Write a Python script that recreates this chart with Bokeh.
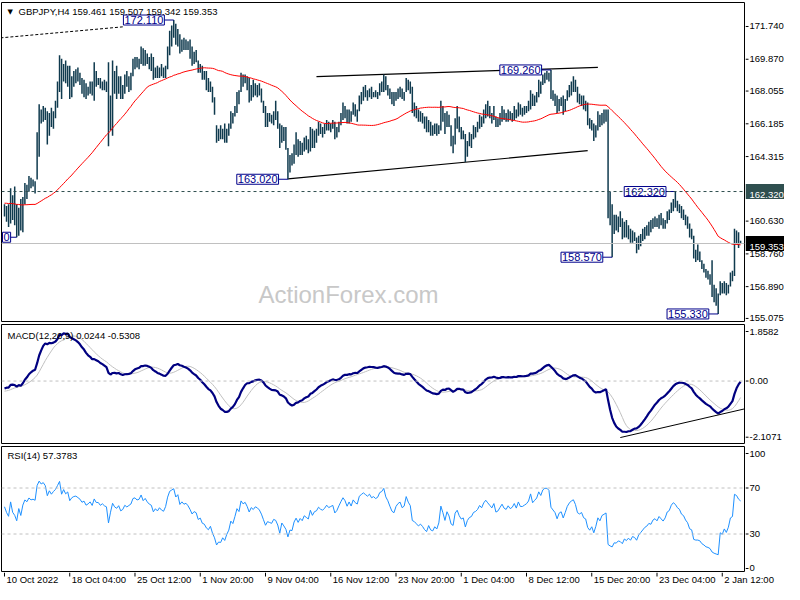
import numpy as np
import pandas as pd
from bokeh.plotting import figure
from bokeh.layouts import column, row
from bokeh.models import Range1d, Span
from bokeh.embed import file_html
from bokeh.resources import INLINE
from bokeh.core.properties import value

FONT = "Liberation Sans"
BAR_COLOR = "#0f3a4e"
NAVY = "#00008b"

# ---------------- data (GBPJPY H4) ----------------
# closes before the first visible bar (only used to warm up the indicators)
pre_close = [
    160.6, 160.9, 161.2, 160.8, 161.0, 161.4, 161.1, 161.5, 161.3, 161.7, 161.4, 161.6,
    161.3, 161.7, 162.0, 161.8, 162.2, 162.5, 162.3, 162.6, 162.9, 162.5, 162.7, 162.6,
    162.8, 162.4, 162.6, 162.3, 162.5, 162.1, 162.4, 162.2, 162.5, 162.0, 162.3, 162.1,
    161.9, 162.2, 161.8, 161.6, 161.9, 161.5, 161.7, 161.3, 161.6, 161.2, 161.4, 161.1,
    160.9, 160.6, 160.8, 160.4, 160.6, 160.3, 160.5, 160.2, 160.5, 160.7, 160.4, 160.6,
]

high = [
    161.6, 161.5, 161.6, 162.5, 162.1, 162.6, 161.6, 161.4, 161.9, 162.0,
    162.8, 162.7, 163.2, 163.1, 163.0, 162.9, 165.7, 167.3, 167.0, 167.2,
    167.1, 166.9, 166.8, 167.1, 166.9, 167.5, 168.6, 170.1, 169.9, 169.6,
    169.8, 169.5, 169.5, 168.9, 169.2, 169.3, 169.4, 169.1, 168.8, 168.7,
    168.5, 168.3, 168.6, 168.6, 169.7, 169.2, 168.8, 168.8, 168.6, 168.7,
    168.6, 169.7, 167.8, 169.8, 169.2, 169.5, 168.9, 168.9, 168.4, 169.0,
    169.2, 168.9, 169.1, 169.9, 170.0, 170.0, 169.9, 170.6, 170.5, 170.4,
    170.2, 170.0, 170.2, 170.0, 169.4, 169.5, 169.4, 169.6, 169.4, 169.5,
    170.6, 171.5, 171.8, 172.11, 171.9, 171.6, 171.3, 171.0, 171.1, 171.0,
    170.9, 171.0, 170.6, 170.3, 170.4, 169.8, 169.6, 169.5, 169.2, 169.2,
    168.8, 168.6, 168.3, 167.7, 166.1, 165.9, 166.1, 165.9, 166.2, 165.9,
    166.2, 166.9, 166.8, 167.2, 168.0, 168.1, 169.1, 169.0, 169.0, 168.9,
    168.8, 168.4, 168.7, 168.5, 168.4, 168.5, 168.2, 167.5, 167.2, 166.8,
    166.8, 166.7, 166.9, 167.5, 166.9, 166.2, 166.1, 166.0, 166.0, 164.8,
    164.4, 164.5, 165.0, 165.7, 165.3, 165.2, 165.1, 165.4, 165.5, 165.3,
    166.0, 165.9, 165.8, 165.9, 166.3, 166.2, 166.0, 166.2, 166.4, 166.3,
    166.2, 166.4, 166.3, 166.0, 166.3, 166.8, 167.4, 167.2, 167.0, 167.0,
    166.9, 167.4, 167.3, 167.0, 167.8, 168.0, 168.3, 168.4, 168.1, 168.2,
    168.3, 168.0, 168.1, 168.0, 168.5, 168.6, 169.0, 168.9, 168.4, 168.2,
    168.0, 168.0, 168.0, 168.2, 168.3, 168.2, 168.0, 168.8, 168.7, 168.6,
    168.3, 167.4, 167.2, 167.0, 166.9, 166.8, 166.6, 166.6, 166.4, 166.3,
    166.1, 166.2, 166.2, 166.1, 167.5, 167.2, 166.8, 166.9, 166.7, 166.1,
    165.5, 166.5, 167.2, 166.6, 166.0, 165.8, 165.6, 165.2, 165.7, 165.6,
    166.1, 166.0, 166.3, 166.7, 166.6, 167.0, 167.3, 167.5, 167.2, 166.8,
    167.2, 166.6, 166.5, 166.8, 167.2, 167.0, 166.8, 167.0, 166.9, 166.8,
    167.2, 167.0, 167.4, 167.3, 167.1, 167.2, 167.2, 167.5, 168.1, 167.9,
    167.8, 168.0, 168.7, 168.6, 169.0, 169.1, 169.2, 169.1, 169.26, 168.1,
    167.9, 167.8, 167.6, 167.7, 167.8, 167.6, 168.1, 168.4, 168.6, 168.9,
    168.7, 168.3, 167.9, 167.8, 167.8, 167.5, 167.4, 166.5, 166.4, 166.2,
    166.1, 166.9, 166.7, 166.8, 167.0, 167.0, 167.0, 162.3, 161.6, 161.0,
    161.0, 160.9, 161.2, 160.8, 160.6, 160.7, 160.4, 160.2, 160.1, 160.0,
    159.7, 159.8, 159.9, 160.2, 160.3, 160.4, 160.6, 160.7, 160.8, 160.9,
    160.8, 161.0, 161.1, 160.8, 160.7, 161.2, 161.3, 161.7, 161.9, 162.32,
    161.8, 161.6, 161.5, 161.3, 161.0, 160.9, 160.5, 160.2, 159.8, 159.0,
    159.3, 158.9, 158.4, 158.2, 157.9, 157.8, 157.6, 158.4, 157.0, 156.8,
    156.5, 157.2, 157.1, 157.2, 157.1, 157.0, 157.7, 157.8, 160.2, 160.1,
    160.0, 159.507,
]

low = [
    160.9, 160.6, 160.3, 160.5, 160.7, 160.4, 159.71, 159.8, 160.1, 160.0,
    161.6, 161.9, 162.3, 162.5, 162.6, 162.2, 163.0, 164.3, 166.2, 166.3,
    166.4, 165.0, 165.5, 166.0, 165.9, 166.5, 167.1, 168.0, 167.6, 168.6,
    168.5, 168.3, 167.6, 167.7, 168.3, 168.5, 168.6, 168.4, 167.9, 167.7,
    167.6, 167.8, 167.9, 167.8, 167.5, 168.3, 168.4, 168.2, 168.1, 168.1,
    168.0, 164.9, 165.8, 165.5, 167.9, 167.6, 167.9, 167.6, 167.6, 167.9,
    168.3, 168.0, 168.1, 168.9, 169.3, 169.4, 169.3, 169.6, 169.5, 169.5,
    169.6, 169.3, 169.2, 168.7, 168.8, 168.8, 168.8, 168.9, 168.8, 168.8,
    169.3, 170.1, 170.6, 171.1, 170.7, 170.6, 170.2, 170.3, 170.4, 170.4,
    170.4, 169.9, 169.5, 169.6, 169.7, 169.1, 169.1, 168.7, 168.7, 168.1,
    168.0, 168.0, 167.4, 166.7, 165.1, 165.2, 165.3, 165.3, 165.1, 165.1,
    165.5, 165.9, 166.2, 166.6, 166.8, 167.3, 168.0, 168.3, 168.5, 168.1,
    167.4, 167.5, 167.7, 167.8, 167.7, 167.8, 167.4, 166.8, 166.0, 166.0,
    166.3, 166.2, 166.1, 166.4, 165.9, 164.8, 165.1, 165.2, 164.7, 163.02,
    163.4, 163.8, 163.9, 164.4, 164.3, 164.4, 164.4, 164.6, 164.7, 164.5,
    164.6, 164.8, 164.8, 165.1, 165.5, 165.6, 165.4, 165.6, 165.8, 165.8,
    165.7, 165.9, 165.3, 165.4, 165.7, 166.1, 166.4, 166.5, 166.2, 166.2,
    166.3, 166.7, 166.6, 166.3, 166.9, 167.3, 167.5, 167.7, 167.5, 167.7,
    167.6, 167.7, 167.7, 167.6, 167.8, 168.0, 168.0, 168.1, 167.8, 167.6,
    167.3, 167.2, 167.5, 167.6, 167.7, 167.6, 167.5, 168.0, 168.1, 167.9,
    166.8, 166.6, 166.5, 166.3, 166.3, 166.2, 165.9, 165.7, 165.7, 165.5,
    165.5, 165.6, 165.5, 165.6, 165.8, 166.3, 165.6, 166.0, 166.0, 164.9,
    164.5, 165.0, 165.9, 165.7, 165.3, 165.3, 164.0, 164.3, 164.9, 164.8,
    165.3, 165.4, 165.7, 165.9, 166.0, 166.2, 166.5, 166.6, 166.5, 166.2,
    166.4, 166.0, 166.0, 166.1, 166.3, 166.4, 166.3, 166.3, 166.4, 166.3,
    166.4, 166.5, 166.6, 166.7, 166.6, 166.7, 166.8, 166.9, 167.0, 167.2,
    167.2, 167.4, 167.7, 167.9, 168.4, 168.5, 168.7, 168.6, 167.6, 167.5,
    167.2, 166.8, 166.9, 167.2, 166.7, 166.9, 167.5, 167.7, 167.8, 168.0,
    168.0, 167.4, 167.3, 167.2, 167.0, 166.9, 166.1, 165.9, 165.8, 165.2,
    165.4, 165.8, 166.0, 166.1, 166.2, 166.3, 160.8, 160.4, 158.57, 159.9,
    160.1, 160.0, 160.3, 159.6, 159.7, 159.7, 159.6, 159.4, 159.4, 159.5,
    158.8, 159.0, 159.2, 159.5, 159.6, 159.8, 159.8, 160.0, 160.2, 160.3,
    160.3, 160.2, 160.4, 160.2, 160.2, 160.5, 160.7, 161.1, 161.2, 161.4,
    161.2, 161.1, 160.8, 160.7, 160.4, 160.2, 159.7, 159.6, 158.5, 158.3,
    158.4, 158.3, 157.9, 157.7, 157.4, 157.3, 157.0, 156.3, 156.0, 155.8,
    155.33, 156.4, 156.5, 156.5, 156.4, 156.5, 156.9, 157.2, 157.5, 159.3,
    159.1, 159.342,
]

close = [
    161.3, 160.9, 160.6, 161.8, 160.9, 160.6, 160.0, 161.2, 160.4, 161.7,
    162.5, 162.3, 162.9, 162.7, 162.8, 162.7, 165.5, 166.8, 166.5, 166.9,
    166.6, 165.5, 166.6, 166.2, 166.8, 167.3, 168.3, 169.6, 168.0, 169.3,
    168.7, 169.2, 167.9, 168.6, 168.9, 169.0, 168.8, 168.6, 168.2, 168.4,
    167.9, 168.1, 168.4, 168.0, 169.0, 168.6, 168.6, 168.3, 168.5, 168.3,
    168.2, 166.2, 167.5, 168.9, 168.4, 168.2, 168.6, 167.9, 168.1, 168.7,
    168.5, 168.7, 168.9, 169.7, 169.8, 169.6, 169.7, 170.3, 169.8, 170.1,
    169.8, 169.6, 169.5, 168.9, 169.2, 169.0, 169.3, 169.1, 169.0, 169.4,
    170.4, 171.2, 171.4, 171.6, 171.0, 171.3, 170.5, 170.8, 170.6, 170.7,
    170.5, 170.2, 169.8, 170.0, 169.9, 169.3, 169.4, 168.9, 168.8, 168.4,
    168.2, 168.4, 167.6, 166.9, 165.4, 165.6, 165.5, 165.8, 165.3, 165.7,
    166.0, 166.7, 166.4, 167.0, 167.8, 167.5, 168.8, 168.5, 168.7, 168.3,
    167.7, 168.2, 168.0, 168.3, 168.2, 168.0, 167.6, 167.0, 166.3, 166.6,
    166.5, 166.4, 166.7, 166.6, 166.1, 165.0, 165.8, 165.4, 164.9, 163.5,
    164.1, 164.0, 164.8, 165.2, 164.6, 165.0, 164.7, 165.2, 165.0, 164.8,
    165.7, 165.1, 165.5, 165.6, 166.0, 165.8, 165.7, 165.9, 166.2, 166.0,
    166.1, 166.2, 165.6, 165.8, 166.2, 166.6, 167.0, 166.8, 166.4, 166.8,
    166.5, 167.1, 166.9, 166.8, 167.6, 167.8, 168.0, 167.9, 167.8, 168.0,
    167.8, 167.9, 167.8, 167.9, 168.3, 168.4, 168.7, 168.3, 168.1, 167.8,
    167.5, 167.4, 167.8, 168.0, 168.1, 167.8, 167.9, 168.6, 168.3, 168.1,
    167.0, 166.9, 166.7, 166.5, 166.6, 166.4, 166.1, 165.9, 166.2, 165.8,
    165.7, 165.9, 165.7, 166.0, 167.1, 166.6, 165.9, 166.6, 166.2, 165.3,
    165.1, 166.2, 166.5, 165.9, 165.5, 165.6, 164.4, 165.0, 165.3, 165.4,
    165.8, 165.9, 166.1, 166.5, 166.3, 166.8, 167.1, 166.9, 166.7, 166.5,
    166.9, 166.2, 166.3, 166.6, 166.9, 166.6, 166.5, 166.8, 166.6, 166.7,
    167.0, 166.7, 167.2, 166.9, 166.9, 167.0, 167.1, 167.3, 167.9, 167.4,
    167.6, 167.8, 168.4, 168.2, 168.8, 169.0, 169.0, 168.9, 167.9, 167.7,
    167.5, 167.0, 167.4, 167.5, 167.0, 167.4, 167.9, 168.2, 168.4, 168.5,
    168.2, 167.6, 167.5, 167.6, 167.2, 167.1, 166.3, 166.0, 166.2, 165.5,
    165.9, 166.5, 166.2, 166.6, 166.7, 166.8, 161.2, 160.6, 160.2, 160.6,
    160.5, 160.7, 160.5, 159.9, 160.3, 159.9, 160.1, 159.6, 159.9, 159.7,
    159.1, 159.5, 159.7, 159.9, 160.1, 160.2, 160.4, 160.3, 160.6, 160.7,
    160.5, 160.8, 160.6, 160.4, 160.6, 161.0, 161.1, 161.5, 161.7, 161.6,
    161.4, 161.3, 161.0, 160.9, 160.6, 160.4, 159.9, 159.8, 158.7, 158.6,
    158.6, 158.5, 158.1, 157.9, 157.6, 157.5, 157.3, 156.6, 156.3, 156.1,
    155.9, 156.9, 156.7, 157.0, 156.6, 156.9, 157.5, 157.6, 159.9, 159.8,
    159.5, 159.353,
]

date_ticks = [0, 32, 64, 96, 128, 160, 192, 224, 256, 288, 320, 352]
date_labels = ["10 Oct 2022", "18 Oct 04:00", "25 Oct 12:00", "1 Nov 20:00", "9 Nov 04:00",
               "16 Nov 12:00", "23 Nov 20:00", "1 Dec 04:00", "8 Dec 12:00", "15 Dec 20:00",
               "23 Dec 04:00", "2 Jan 12:00"]
price_ticks = [171.740, 169.870, 168.055, 166.185, 164.315, 160.630, 158.760, 156.890, 155.075]
price_tick_labels = ["171.740", "169.870", "168.055", "166.185", "164.315", "160.630",
                     "158.760", "156.890", "155.075"]
macd_ticks = [1.8582, 0.0, -2.1071]
macd_tick_labels = ["1.8582", "0.00", "-2.1071"]
rsi_ticks = [100, 70, 30, 0]
rsi_tick_labels = ["100", "70", "30", "0"]

# swing labels: bar index, price, text
swing_bar = [83, 268, 139, 329, 298, 350]
swing_price = [172.11, 169.26, 163.02, 162.32, 158.57, 155.33]
swing_text = ["172.110", "169.260", "163.020", "162.320", "158.570", "155.330"]
edge_bar = [6]
edge_price = [159.71]
edge_text = ["0"]

# trend lines (bar index, price)
dotted_x = [-2, 58]
dotted_y = [171.09, 171.72]
upper_x = [153, 291]
upper_y = [168.88, 169.41]
lower_x = [139, 286]
lower_y = [163.04, 164.65]
macd_tl_x = [302, 370]
macd_tl_y = [-2.12, -0.92]

resistance_level = 162.32
resistance_text = "162.320"
last_price = 159.353
last_price_text = "159.353"
title_text = "GBPJPY,H4  159.461 159.507 159.342 159.353"
macd_title = "MACD(12,26,9) 0.0244 -0.5308"
rsi_title = "RSI(14) 57.3783"

# ---------------- indicators ----------------
npre = len(pre_close)
allc = pd.Series(pre_close + close)
ma55 = allc.rolling(55).mean().to_numpy()[npre:]
ema12 = allc.ewm(span=12, adjust=False).mean()
ema26 = allc.ewm(span=26, adjust=False).mean()
macd_all = ema12 - ema26
sig_all = macd_all.rolling(9).mean()
macd = macd_all.to_numpy()[npre:]
sig = sig_all.to_numpy()[npre:]
d = allc.diff()
gain = d.clip(lower=0)
loss = (-d).clip(lower=0)
ag = gain.ewm(alpha=1 / 14, adjust=False).mean()
al = loss.ewm(alpha=1 / 14, adjust=False).mean()
rsi = (100 - 100 / (1 + ag / al)).to_numpy()[npre:]

n = len(close)
idx = np.arange(n)

# ---------------- layout helpers ----------------
FW = 743       # plot frame width
SW = 39        # price-scale column width
PX_PER_BAR = 2.0391
X0 = -1.47
xr = Range1d(X0, X0 + FW / PX_PER_BAR)


def make_fig(yr, top, fh, bottom):
    p = figure(frame_width=FW, frame_height=fh, x_range=xr, y_range=yr,
               output_backend="svg", toolbar_location=None,
               x_axis_location=None, y_axis_location=None,
               min_border_left=1, min_border_right=1, min_border_top=top,
               min_border_bottom=bottom, background_fill_color="white",
               border_fill_color="white", outline_line_color="black",
               outline_line_width=1)
    p.grid.visible = False
    return p


def make_scale(yr, top, fh, bottom, ticks, labels):
    s = figure(frame_width=SW, frame_height=fh, x_range=Range1d(0, SW), y_range=yr,
               output_backend="svg", toolbar_location=None,
               x_axis_location=None, y_axis_location=None,
               min_border_left=0, min_border_right=0, min_border_top=top,
               min_border_bottom=bottom, background_fill_color="white",
               border_fill_color="white", outline_line_color=None)
    s.grid.visible = False
    s.segment(x0=[0] * len(ticks), y0=ticks, x1=[3] * len(ticks), y1=ticks,
              line_color="black", line_width=1)
    s.text(x=[4] * len(ticks), y=ticks, text=labels, text_font=value(FONT),
           text_font_size="9.5px", text_color="black", text_align="left",
           text_baseline="middle")
    return s


def title_glyph(p, txt, xo, yo):
    p.text(x=[p.x_range.start], y=[p.y_range.end], text=[txt], text_font=value(FONT),
           text_font_size="9.5px", text_color="black", text_align="left",
           text_baseline="top", x_offset=xo, y_offset=yo)


# ---------------- main price panel ----------------
yr1 = Range1d(154.90, 173.11)
p1 = make_fig(yr1, 2, 319, 1)
xs, xe = xr.start, xr.end

p1.text(x=[xs + 0.467 * (xe - xs)], y=[156.44], text=["ActionForex.com"],
        text_font=value(FONT), text_font_size="24px", text_color="#c8c8c8",
        text_align="center", text_baseline="middle")

p1.add_layout(Span(location=resistance_level, dimension="width", line_color="#2f4f4f",
                   line_dash="3 3", line_width=1))
p1.add_layout(Span(location=last_price, dimension="width", line_color="#c0c0c0",
                   line_width=1))

p1.line(dotted_x, dotted_y, line_color="black", line_dash="3 2", line_width=1)
p1.line(upper_x, upper_y, line_color="black", line_width=1.2)
p1.line(lower_x, lower_y, line_color="black", line_width=1.2)

p1.segment(x0=idx, y0=low, x1=idx, y1=high, line_color=BAR_COLOR, line_width=1.5)
p1.line(idx, ma55, line_color="red", line_width=1)

lab_x = [b - 4.6 for b in swing_bar]
p1.segment(x0=lab_x, y0=swing_price, x1=swing_bar, y1=swing_price, line_color=NAVY,
           line_width=1)
p1.text(x=lab_x, y=swing_price, text=swing_text, text_font=value(FONT),
        text_font_size="11px", text_color=NAVY, text_align="right",
        text_baseline="middle", background_fill_color="white",
        border_line_color=NAVY, border_line_width=1, padding=1)
# partly hidden swing label at the left edge
p1.segment(x0=[xs], y0=edge_price, x1=edge_bar, y1=edge_price, line_color=NAVY,
           line_width=1)
p1.text(x=[xs], y=edge_price, text=edge_text, text_font=value(FONT),
        text_font_size="11px", text_color=NAVY, text_align="left",
        text_baseline="middle", background_fill_color="white",
        border_line_color=NAVY, border_line_width=1, padding=1, x_offset=1)

title_glyph(p1, title_text, 17, 3)
p1.text(x=[xs], y=[yr1.end], text=["\u25bc"], text_font=value("DejaVu Sans"),
        text_font_size="7px", text_color="black", text_align="left",
        text_baseline="top", x_offset=6, y_offset=5)

s1 = make_scale(yr1, 2, 319, 1, price_ticks, price_tick_labels)
s1.text(x=[0, 0], y=[resistance_level, last_price], text=[resistance_text, last_price_text],
        text_font=value(FONT), text_font_size="9.5px", text_color="white",
        text_align="left", text_baseline="middle",
        background_fill_color=["#2f4f4f", "black"], padding=[4, 1, 8, 1])

# ---------------- MACD panel ----------------
yr2 = Range1d(-2.343, 2.121)
p2 = make_fig(yr2, 2, 119, 1)
p2.add_layout(Span(location=0, dimension="width", line_color="#c0c0c0", line_dash="3 3"))
p2.line(idx, sig, line_color="#c0c0c0", line_width=1)
p2.line(idx, macd, line_color="#000080", line_width=2.2)
p2.line(macd_tl_x, macd_tl_y, line_color="black", line_width=1)
title_glyph(p2, macd_title, 6, 5)
s2 = make_scale(yr2, 2, 119, 1, macd_ticks, macd_tick_labels)

# ---------------- RSI panel ----------------
yr3 = Range1d(-2.61, 106.09)
p3 = make_fig(yr3, 2, 125, 1)
p3.add_layout(Span(location=70, dimension="width", line_color="#c0c0c0", line_dash="3 3"))
p3.add_layout(Span(location=30, dimension="width", line_color="#c0c0c0", line_dash="3 3"))
p3.line(idx, rsi, line_color="#1e90ff", line_width=1)
title_glyph(p3, rsi_title, 6, 3)
s3 = make_scale(yr3, 2, 125, 1, rsi_ticks, rsi_tick_labels)

# ---------------- time scale ----------------
TW = FW + 1 + SW
xr4 = Range1d(X0, X0 + TW / PX_PER_BAR)
p4 = figure(frame_width=TW, frame_height=12, x_range=xr4, y_range=Range1d(0, 12),
            output_backend="svg", toolbar_location=None,
            x_axis_location=None, y_axis_location=None,
            min_border_left=1, min_border_right=0, min_border_top=0,
            min_border_bottom=0, background_fill_color="white",
            border_fill_color="white", outline_line_color=None)
p4.grid.visible = False
p4.segment(x0=date_ticks, y0=[12] * len(date_ticks), x1=date_ticks, y1=[8] * len(date_ticks),
           line_color="black", line_width=1)
p4.text(x=date_ticks, y=[11] * len(date_ticks), text=date_labels, text_font=value(FONT),
        text_font_size="9.5px", text_color="black", text_align="left",
        text_baseline="top", x_offset=2)

layout = column(row(p1, s1, spacing=0), row(p2, s2, spacing=0),
                row(p3, s3, spacing=0), p4, spacing=0)
open("out.html", "w").write(file_html(layout, INLINE))
